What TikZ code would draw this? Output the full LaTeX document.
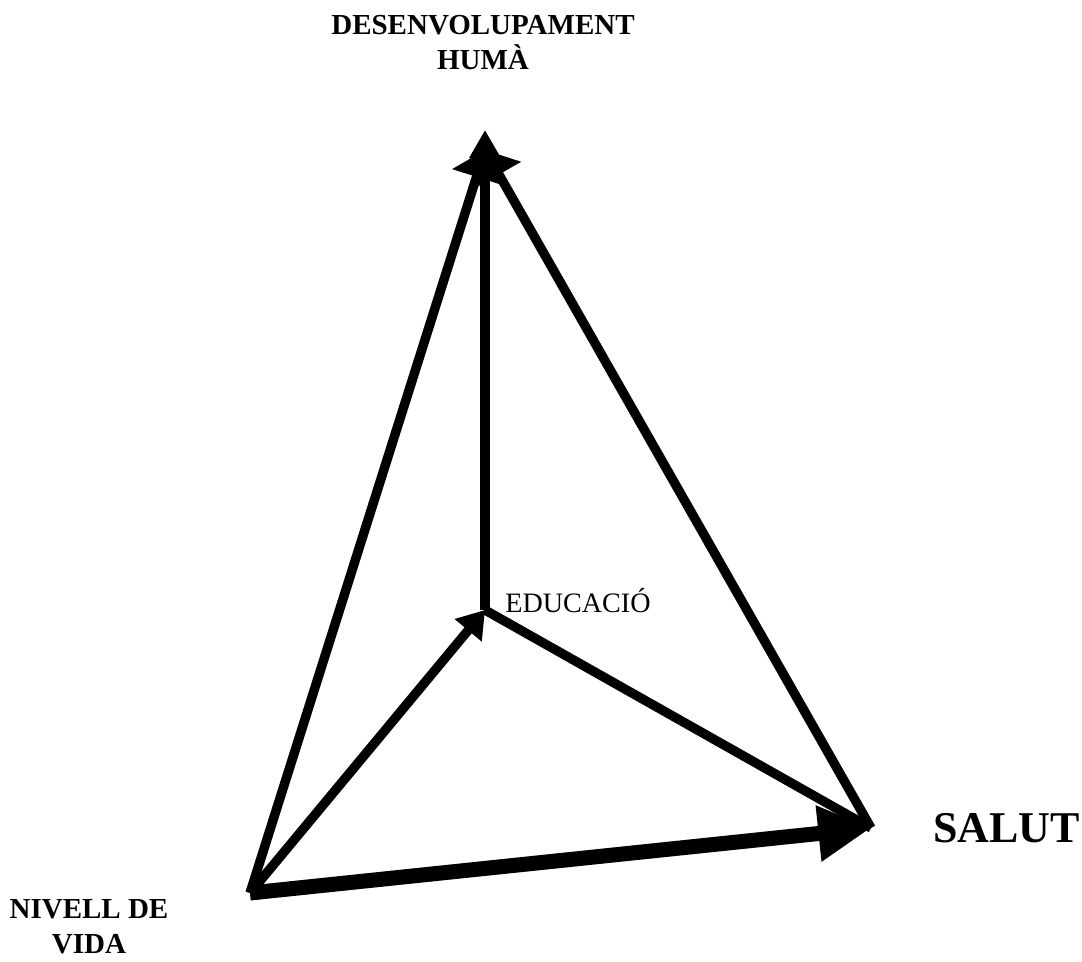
\documentclass[tikz,border=0pt]{standalone}
\usepackage{fontspec}
\setmainfont{Liberation Serif}
\usetikzlibrary{arrows.meta}
\tikzset{
  conn/.style={line width=5.3pt, black},
  shade/.style={line width=5.3pt, black!22, shift={(2.5,2.5)}},
  headA/.style={-{Triangle[length=16pt,width=17pt]}},
  headB/.style={-{Triangle[length=16pt,width=28pt]}},
  headC/.style={-{Triangle[length=15pt,width=19pt]}},
  bigarrow/.style={line width=8.5pt, black, -{Triangle[length=30pt,width=30pt]}},
  bigshade/.style={line width=8.5pt, black!22, shift={(2.5,2.5)}, -{Triangle[length=30pt,width=30pt]}},
  lab/.style={font=\bfseries\fontsize{16.5}{20}\selectfont, align=center, inner sep=0pt},
}
\begin{document}
\begin{tikzpicture}[x=0.02cm,y=-0.02cm]
\useasboundingbox (0,0) rectangle (1082,961);
\coordinate (top) at (485,130);
\coordinate (apex) at (485,150);
\coordinate (L) at (250,893);
\coordinate (R) at (871,828);
\coordinate (E) at (485,610);
% shadows
\draw[shade, headA] (E) -- (top);
\draw[shade, headB] (L) -- (apex);
\draw[shade, headB] (R) -- (apex);
\draw[shade, headC] (L) -- (E);
\draw[shade] (E) -- (R);
\draw[bigshade] (L) -- (R);
% lines
\draw[conn] (E) -- (R);
\draw[conn, headB] (L) -- (apex);
\draw[conn, headB] (R) -- (apex);
\draw[conn, headA] (E) -- (top);
\draw[conn, headC] (L) -- (E);
\draw[bigarrow] (L) -- (R);
% labels
\node[lab, anchor=north] (dh) at (483,15) {DESENVOLUPAMENT\\HUMÀ};
\node[lab, anchor=north] (nv) at (89,899) {NIVELL DE\\VIDA};
\node[inner sep=0pt, anchor=base west, font=\fontsize{16}{19}\selectfont] (edu) at (505,612) {EDUCACIÓ};
\node[inner sep=0pt, anchor=base west, font=\bfseries\fontsize{25}{30}\selectfont] (sal) at (933,842) {SALUT};
\end{tikzpicture}
\end{document}
